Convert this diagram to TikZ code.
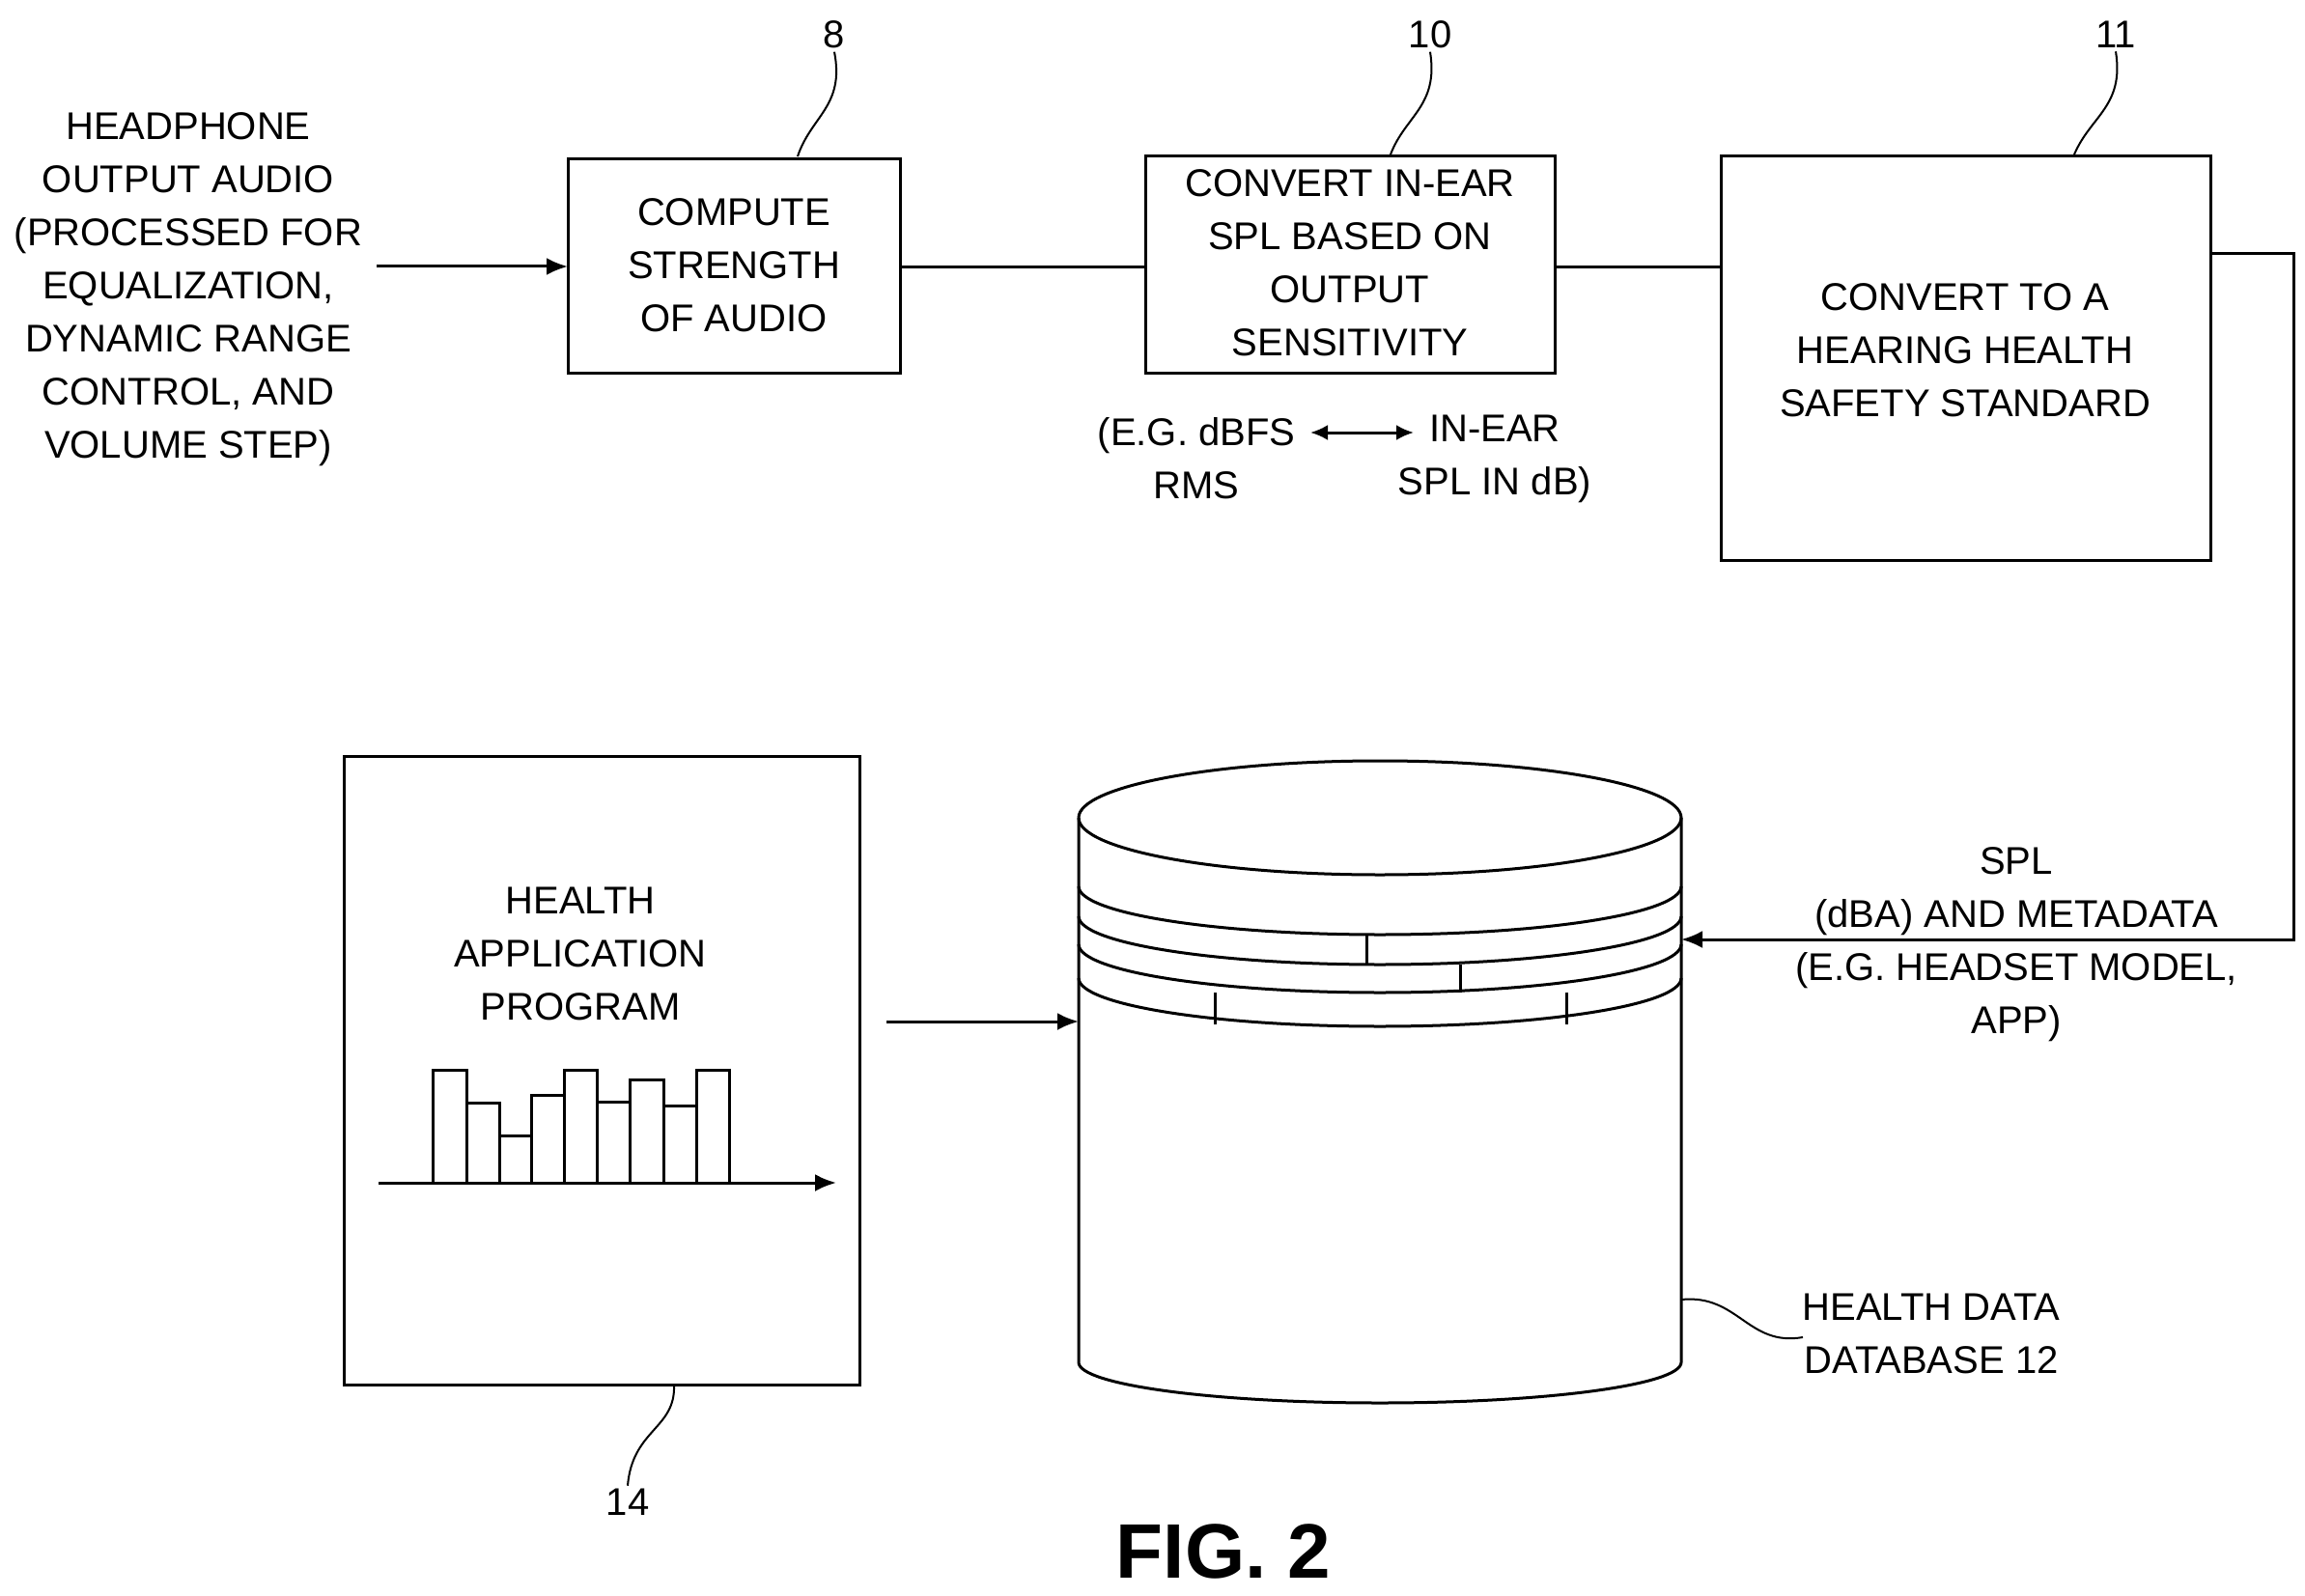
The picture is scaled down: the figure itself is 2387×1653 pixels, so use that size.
\documentclass[tikz,border=0pt]{standalone}
\usepackage{fontspec}
\setmainfont{Liberation Sans}
\usetikzlibrary{arrows.meta}
\begin{document}
\begin{tikzpicture}[x=1pt,y=-1pt,
  ln/.style={line width=3pt},
  txt/.style={align=center,font=\fontsize{40}{55}\selectfont},
  arr/.style={ln,-{Latex[length=22pt,width=18pt]}},
  lead/.style={line width=2pt}]
\useasboundingbox (0,0) rectangle (2387,1653);
% boxes
\draw[ln] (588,165) rectangle (932,386);
\node[txt] (b8) at (760,275) {COMPUTE\\STRENGTH\\OF AUDIO};
\draw[ln] (1186,162) rectangle (1610,386);
\node[txt] (b10) at (1398,272) {CONVERT IN-EAR\\SPL BASED ON\\OUTPUT\\SENSITIVITY};
\draw[ln] (1782,162) rectangle (2289,580);
\node[txt] (b11) at (2035,363) {CONVERT TO A\\HEARING HEALTH\\SAFETY STANDARD};
\node[txt] (hp) at (195,300) {HEADPHONE\\OUTPUT AUDIO\\(PROCESSED FOR\\EQUALIZATION,\\DYNAMIC RANGE\\CONTROL, AND\\VOLUME STEP)};
\coordinate (a0) at (390,276);
\coordinate (a1) at (588,276);
\draw[arr] (a0) -- (a1);
\coordinate (c1) at (932,277); \coordinate (c2) at (1186,277);
\draw[ln] (c1) -- (c2);
\coordinate (c3) at (1610,277); \coordinate (c4) at (1782,277);
\draw[ln] (c3) -- (c4);
% ref numbers
\node[txt] (n8) at (864,36) {8};
\node[txt] (n10) at (1481,36) {10};
\node[txt] (n11) at (2191,36) {11};
\draw[lead] (826,162) .. controls (840,120) and (875,110) .. (n8.south);
\draw[lead] (1440,160) .. controls (1455,120) and (1490,110) .. (n10.south);
\draw[lead] (2148,160) .. controls (2165,120) and (2200,110) .. (n11.south);
% dBFS labels
\node[txt] (e1) at (1239,475) {(E.G. dBFS\\RMS};
\node[txt] (e2) at (1548,475) {IN-EAR\\SPL IN dB)};
\coordinate (d1) at (1357,448); \coordinate (d2) at (1464,448);
\draw[ln,{Latex[length=18pt,width=16pt]}-{Latex[length=18pt,width=16pt]}] (d1) -- (d2);
% right connector
\coordinate (r0) at (2289,263); \coordinate (r1) at (2375,263);
\coordinate (r2) at (2375,973); \coordinate (r3) at (1741,973);
\draw[arr] (r0) -- (r1) -- (r2) -- (r3);
\node[txt] (spl) at (2088,978) {SPL\\(dBA) AND METADATA\\(E.G. HEADSET MODEL,\\APP)};
% cylinder
\draw[ln] (1117,1411) -- (1117,847) arc[start angle=180,end angle=360,x radius=312,y radius=59] -- (1741,1411) arc[start angle=0,end angle=180,x radius=312,y radius=42];
\draw[ln] (1117,847) arc[start angle=180,end angle=0,x radius=312,y radius=59];
\foreach \yy in {918,949,978,1013}{
  \draw[ln] (1117,\yy) arc[start angle=180,end angle=0,x radius=312,y radius=50];}
\draw[ln] (1415,968) -- (1415,999);
\draw[ln] (1512,999) -- (1512,1028);
\draw[ln] (1258,1028) -- (1258,1061);
\draw[ln] (1622,1028) -- (1622,1061);
\node[txt] (db) at (2000,1381) {HEALTH DATA\\DATABASE 12};
\draw[lead] (1741,1346) .. controls (1800,1340) and (1810,1395) .. (1867,1385);
% health app box
\draw[ln] (356,783) rectangle (890,1434);
\node[txt] (app) at (601,988) {HEALTH\\APPLICATION\\PROGRAM};
\coordinate (h0) at (392,1225); \coordinate (h1) at (866,1225);
\draw[arr] (h0) -- (h1);
\foreach \xa/\xb/\yt in {448/483/1108,483/517/1142,517/550/1176,550/584/1134,584/618/1108,618/652/1141,652/687/1118,687/721/1145,721/755/1108}{
  \draw[ln] (\xa,1225) rectangle (\xb,\yt);}
\coordinate (p0) at (918,1058); \coordinate (p1) at (1117,1058);
\draw[arr] (p0) -- (p1);
\node[txt] (n14) at (650,1556) {14};
\draw[lead] (698,1434) .. controls (700,1480) and (655,1480) .. (n14.north);
\node[font=\fontsize{80}{90}\selectfont\bfseries] (fig) at (1267,1607) {FIG. 2};
\end{tikzpicture}
\end{document}
